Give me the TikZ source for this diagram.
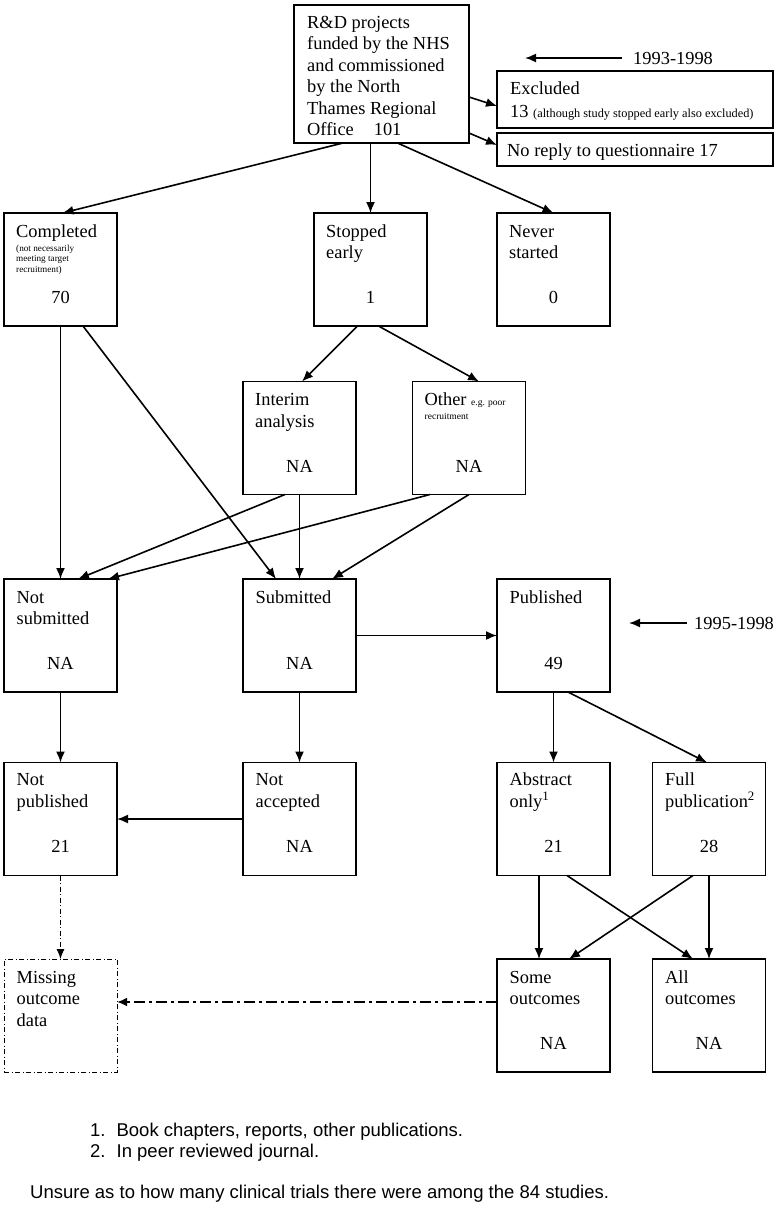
\documentclass[tikz,border=0pt]{standalone}
\usepackage{fontspec}
\setmainfont{Liberation Serif}
\newfontfamily\arialf{Liberation Sans}
\usetikzlibrary{arrows.meta,calc}
\begin{document}
\begin{tikzpicture}[x=1pt,y=-1pt]
\tikzset{
 box/.style={draw, line width=1.4pt, inner sep=0pt, outer sep=0pt, minimum width=113pt, minimum height=113pt},
 dbox/.style={box, line width=1pt, dash pattern=on 5pt off 2.5pt on 1pt off 2.5pt},
 txt/.style={anchor=north west, inner sep=0pt, align=left, font=\fontsize{18.4}{21.5}\selectfont},
 num/.style={inner sep=0pt, font=\fontsize{18.4}{21.5}\selectfont},
 tinytxt/.style={anchor=north west, inner sep=0pt, align=left, font=\fontsize{9.2}{10.7}\selectfont},
 foot/.style={anchor=base west, inner sep=0pt, font=\arialf\fontsize{18.5}{21}\selectfont},
 arr/.style={-{Latex[length=11pt,width=9pt]}, line width=1.6pt},
 ddthin/.style={-{Latex[length=10pt,width=8pt]}, line width=1pt, dash pattern=on 5pt off 2.5pt on 1pt off 2.5pt},
 ddthick/.style={-{Latex[length=10pt,width=9pt]}, line width=2pt, dash pattern=on 11pt off 4pt on 3pt off 4pt}
}
\useasboundingbox (0,0) rectangle (778,1219);

% top
\node[box, minimum width=175pt, minimum height=138pt] (top) at (381.5,74) {};
\node[txt] (toptxt) at ($(top.north west)+(13,8)$) {\strut R\&D projects\\funded by the NHS\\and commissioned\\by the North\\Thames Regional\\Office\hspace{20pt}101};
\node[box, minimum width=276pt, minimum height=57pt] (excl) at (635,99.5) {};
\node[txt] (excltxt) at ($(excl.north west)+(13,8)$) {\strut Excluded\\[1.5pt]13 {\fontsize{12.3}{14}\selectfont (although study stopped early also excluded)}};
\node[box, minimum width=276pt, minimum height=33pt] (norep) at (635,149.5) {};
\node[txt, anchor=base west] (noreptxt) at ($(norep.west)+(10,6.5)$) {No reply to questionnaire 17};

\node[num, anchor=west] (yr1) at (633,58) {1993-1998};
\coordinate (c1) at (525,58);
\draw[arr] ($(yr1.west)+(-11,0)$) -- (c1);

% row 2
\node[box] (comp) at (60.5,269.5) {};
\node[txt] (comptxt) at ($(comp.north west)+(12,9)$) {\strut Completed};
\node[tinytxt] (compsm) at ($(comp.north west)+(12,30.5)$) {\strut(not necessarily\\meeting target\\recruitment)};
\node[num] (compn) at ($(comp.center)+(0,27.5)$) {70};

\node[box] (stop) at (370.5,269.5) {};
\node[txt] (stoptxt) at ($(stop.north west)+(12,9)$) {\strut Stopped\\early};
\node[num] (stopn) at ($(stop.center)+(0,27.5)$) {1};

\node[box] (never) at (553.5,269.5) {};
\node[txt] (nevertxt) at ($(never.north west)+(12,9)$) {\strut Never\\started};
\node[num] (nevern) at ($(never.center)+(0,27.5)$) {0};

% row 3
\node[box] (interim) at (299.5,438) {};
\node[txt] (interimtxt) at ($(interim.north west)+(12,9)$) {\strut Interim\\analysis};
\node[num] (interimn) at ($(interim.center)+(0,28)$) {NA};

\node[box] (other) at (469,438) {};
\node[txt] (othertxt) at ($(other.north west)+(12,9)$) {\strut Other {\fontsize{9.5}{11}\selectfont e.g. poor}};
\node[tinytxt, anchor=base west, font=\fontsize{9.5}{11}\selectfont] (othersm) at ($(other.north west)+(12,38)$) {recruitment};
\node[num] (othern) at ($(other.center)+(0,28)$) {NA};

% row 4
\node[box] (notsub) at (60.5,635.5) {};
\node[txt] (notsubtxt) at ($(notsub.north west)+(12.5,9)$) {\strut Not\\submitted};
\node[num] (notsubn) at ($(notsub.center)+(0,27.5)$) {NA};

\node[box] (sub) at (299.5,635.5) {};
\node[txt] (subtxt) at ($(sub.north west)+(12.5,9)$) {\strut Submitted};
\node[num] (subn) at ($(sub.center)+(0,27.5)$) {NA};

\node[box] (pub) at (553.5,635.5) {};
\node[txt] (pubtxt) at ($(pub.north west)+(12.5,9)$) {\strut Published};
\node[num] (pubn) at ($(pub.center)+(0,27.5)$) {49};

\node[num, anchor=west] (yr2) at (694,623) {1995-1998};
\coordinate (c2) at (629,623);
\draw[arr] ($(yr2.west)+(-7,0)$) -- (c2);

% row 5
\node[box] (notpub) at (60.5,819) {};
\node[txt] (notpubtxt) at ($(notpub.north west)+(12.5,8)$) {\strut Not\\published};
\node[num] (notpubn) at ($(notpub.center)+(0,27.5)$) {21};

\node[box] (notacc) at (299.5,819) {};
\node[txt] (notacctxt) at ($(notacc.north west)+(12.5,8)$) {\strut Not\\accepted};
\node[num] (notaccn) at ($(notacc.center)+(0,27.5)$) {NA};

\node[box] (abs) at (553.5,819) {};
\node[txt] (abstxt) at ($(abs.north west)+(12.5,8)$) {\strut Abstract\\only\textsuperscript{1}};
\node[num] (absn) at ($(abs.center)+(0,27.5)$) {21};

\node[box] (full) at (709,819) {};
\node[txt] (fulltxt) at ($(full.north west)+(12.5,8)$) {\strut Full\\publication\textsuperscript{2}};
\node[num] (fulln) at ($(full.center)+(0,27.5)$) {28};

% row 6
\node[dbox] (missing) at (60.5,1015.5) {};
\node[txt] (missingtxt) at ($(missing.north west)+(12.5,9)$) {\strut Missing\\outcome\\data};

\node[box] (some) at (553.5,1015.5) {};
\node[txt] (sometxt) at ($(some.north west)+(12.5,9)$) {\strut Some\\outcomes};
\node[num] (somen) at ($(some.center)+(0,27.5)$) {NA};

\node[box] (all) at (709,1015.5) {};
\node[txt] (alltxt) at ($(all.north west)+(12.5,9)$) {\strut All\\outcomes};
\node[num] (alln) at ($(all.center)+(0,27.5)$) {NA};

% connectors
\draw[arr] ($(top.east)+(0,23)$) -- ($(excl.west)+(0,6.5)$);
\draw[arr] ($(top.east)+(0,59)$) -- ($(norep.west)+(0,-4.5)$);
\draw[arr] ($(top.south)+(-38.5,0)$) -- ($(comp.north)+(2,0)$);
\draw[arr] ($(top.south)+(-11,0)$) -- (stop.north);
\draw[arr] ($(top.south)+(16,0)$) -- (never.north);
\draw[arr] (comp.south) -- (notsub.north);
\draw[arr] ($(comp.south)+(22.5,0)$) -- ($(sub.north)+(-23.5,0)$);
\draw[arr] ($(stop.south)+(-13,0)$) -- ($(interim.north)+(2.5,0)$);
\draw[arr] ($(stop.south)+(8,0)$) -- ($(other.north)+(10,0)$);
\draw[arr] ($(interim.south)+(-14.5,0)$) -- ($(notsub.north)+(17.5,0)$);
\draw[arr] ($(other.south)+(-39,0)$) -- ($(notsub.north)+(47.5,0)$);
\draw[arr] (interim.south) -- (sub.north);
\draw[arr] (other.south) -- ($(sub.north)+(32.5,0)$);
\draw[arr] (sub.east) -- (pub.west);
\draw[arr] (notsub.south) -- (notpub.north);
\draw[arr] (sub.south) -- (notacc.north);
\draw[arr] (notacc.west) -- (notpub.east);
\draw[arr] (pub.south) -- (abs.north);
\draw[arr] ($(pub.south)+(14.5,0)$) -- ($(full.north)+(-2,0)$);
\draw[ddthin] (notpub.south) -- (missing.north);
\draw[arr] ($(abs.south)+(-14.5,0)$) -- ($(some.north)+(-14.5,0)$);
\draw[arr] ($(abs.south)+(13.5,0)$) -- ($(all.north)+(-16,0)$);
\draw[arr] ($(full.south)+(-16,0)$) -- ($(some.north)+(15.5,0)$);
\draw[arr] (full.south) -- (all.north);
\draw[ddthick] ($(some.west)+(0,-13.5)$) -- ($(missing.east)+(0,-13.5)$);

% footnotes
\node[foot] (fn1) at (90,1136.5) {1.\hspace{11pt}Book chapters, reports, other publications.};
\node[foot] (fn2) at (90,1157.5) {2.\hspace{11pt}In peer reviewed journal.};
\node[foot] (fn3) at (30,1198.5) {Unsure as to how many clinical trials there were among the 84 studies.};
\end{tikzpicture}
\end{document}
